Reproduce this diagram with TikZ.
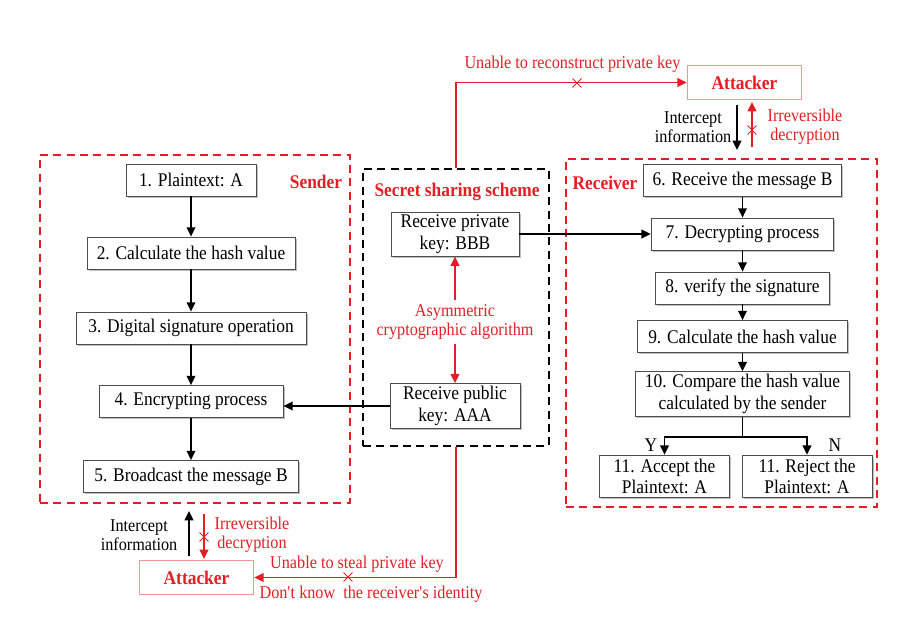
\documentclass[tikz,border=0pt]{standalone}
\usepackage{fontspec}
\setmainfont{Liberation Serif}
\newfontfamily\tallserif[FakeStretch=0.9]{Liberation Serif}
\usetikzlibrary{arrows.meta,shapes.misc,shadows}
\definecolor{alert}{RGB}{228,30,36}
\definecolor{alertlight}{RGB}{240,150,150}

\begin{document}
\begin{tikzpicture}
  [x=0.75pt,y=-0.75pt,
   every node/.style={font=\tallserif\fontsize{14.5}{16.3}\selectfont},
   box/.style={draw=black!70,fill=white,line width=0.6pt,minimum height=24pt,inner sep=2pt,align=center,
     general shadow={fill=black!25,shadow xshift=1.2pt,shadow yshift=-1.2pt}},
   group/.style={draw=alert,line width=1.1pt,dash pattern=on 6pt off 4pt,inner sep=0pt},
   grouptitle/.style={text=alert,font=\tallserif\fontsize{14.5}{16}\selectfont\bfseries},
   note/.style={font=\tallserif\fontsize{13.5}{14.5}\selectfont,align=center},
   attack/.style={draw=alertlight,fill=white,line width=0.6pt,minimum width=86pt,minimum height=25pt,
     text=alert,font=\tallserif\fontsize{14.5}{16}\selectfont\bfseries},
   crossmark/.style={cross out,draw=alert,line width=0.7pt,minimum size=6pt,inner sep=0pt},
   arr/.style={-{Triangle[length=7pt,width=6.5pt]},line width=1.2pt},
   redarr/.style={arr,draw=alert}]
  \useasboundingbox (0,0) rectangle (920,624);

  % dashed groups
  \node (sender)[group,minimum width=232.5pt,minimum height=261pt] at (195,329) {};
  \node (receiver)[group,minimum width=233.25pt,minimum height=261pt] at (721.5,333) {};
  \node (mid)[group,draw=black,minimum width=139.5pt,minimum height=207.75pt] at (456,307.5) {};
  \node (sendertitle)[grouptitle] at (316,182) {Sender};
  \node (receivertitle)[grouptitle] at (605,183) {Receiver};
  \node (midtitle)[grouptitle] at (457,192) {Secret sharing scheme};

  % sender
  \node (b1)[box,minimum width=97.5pt] at (191,180) {1. Plaintext: A};
  \node (b2)[box,minimum width=156pt] at (191,253) {2. Calculate the hash value};
  \node (b3)[box,minimum width=172.5pt] at (191,328) {3. Digital signature operation};
  \node (b4)[box,minimum width=138pt] at (191,401.5) {4. Encrypting process};
  \node (b5)[box,minimum width=161pt] at (191,476.5) {5. Broadcast the message B};

  % secret sharing scheme
  \node (keyB)[box,minimum width=96pt,minimum height=31.5pt] at (455,234) {Receive private\\key: BBB};
  \node (keyA)[box,minimum width=97.5pt,minimum height=31.5pt] at (455,406) {Receive public\\key: AAA};
  \node (algo)[note,text=alert] at (455,322) {Asymmetric\\cryptographic algorithm};

  % receiver
  \node (b6)[box,minimum width=149pt] at (742.5,180.5) {6. Receive the message B};
  \node (b7)[box,minimum width=137pt] at (742.5,234) {7. Decrypting process};
  \node (b8)[box,minimum width=131pt] at (742.5,288) {8. verify the signature};
  \node (b9)[box,minimum width=157pt] at (742.5,336.5) {9. Calculate the hash value};
  \node (b10)[box,minimum width=160.5pt,minimum height=31.5pt] at (742.5,394) {10. Compare the hash value\\calculated by the sender};
  \node (b11a)[box,minimum width=97pt,minimum height=32pt] at (664.5,476.5) {11. Accept the\\Plaintext: A};
  \node (b11b)[box,minimum width=97.5pt,minimum height=32pt] at (807,476.5) {11. Reject the\\Plaintext: A};
  \node (yes) at (651,445) {Y};
  \node (no) at (835,445) {N};

  % attackers
  \node (atk1)[attack] at (744.5,82.5) {Attacker};
  \node (atk2)[attack] at (196.5,577.5) {Attacker};

  \foreach \from/\to in {b1/b2,b2/b3,b3/b4,b4/b5,b6/b7,b7/b8,b8/b9,b9/b10}
    \draw[arr] (\from) -- (\to);
  \foreach \to in {b11a,b11b}
    \draw[arr] (b10.south) -- ++(0,20) -| (\to.north);
  \draw[arr] (keyB) -- (b7);
  \draw[arr] (keyA.west) -- (keyA.west -| b4.east);
  \foreach \to in {keyB,keyA}
    \draw[redarr] (algo) -- (\to);

  % top attacker
  \coordinate (in1a) at (737,105);
  \coordinate (in1b) at (737,150);
  \coordinate (de1a) at (752,147);
  \coordinate (de1b) at (752,102);
  \draw[redarr] (mid.north) |- (atk1);
  \node (cut1)[crossmark] at (577,83) {};
  \node (lost1)[note,text=alert] at (572.5,64) {Unable to reconstruct private key};
  \draw[arr] (in1a) -- (in1b);
  \draw[redarr] (de1a) -- (de1b);
  \node (cut2)[crossmark] at (752,130) {};
  \node (tap1)[note] at (693,127) {Intercept\\information};
  \node (irr1)[note,text=alert] at (805,127) {Irreversible\\decryption};

  % bottom attacker
  \coordinate (in2a) at (189,556);
  \coordinate (in2b) at (189,511);
  \coordinate (de2a) at (204,514);
  \coordinate (de2b) at (204,559);
  \draw[redarr] (mid.south) |- (atk2);
  \node (cut3)[crossmark] at (348,577) {};
  \node (lost2)[note,text=alert] at (357,564) {Unable to steal private key};
  \node (lost3)[note,text=alert] at (371,594) {Don\textquotesingle t know~ the receiver\textquotesingle s identity};
  \draw[arr] (in2a) -- (in2b);
  \draw[redarr] (de2a) -- (de2b);
  \node (cut4)[crossmark] at (204,537) {};
  \node (tap2)[note] at (139,535) {Intercept\\information};
  \node (irr2)[note,text=alert] at (252,535) {Irreversible\\decryption};
\end{tikzpicture}
\end{document}
